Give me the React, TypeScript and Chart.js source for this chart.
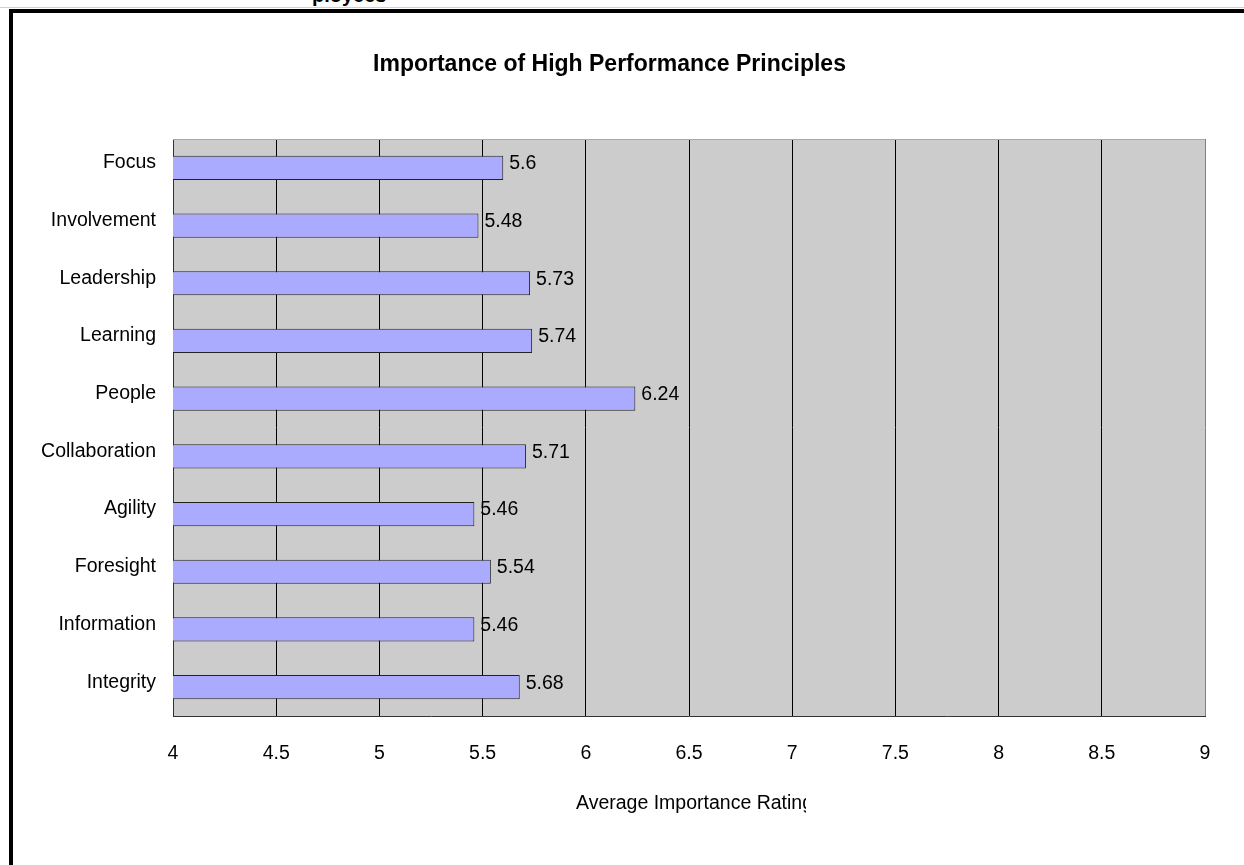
import { useEffect, useRef } from "react";
import { Chart, registerables } from "chart.js";

Chart.register(...registerables);

const categories = [
  "Focus",
  "Involvement",
  "Leadership",
  "Learning",
  "People",
  "Collaboration",
  "Agility",
  "Foresight",
  "Information",
  "Integrity",
];
const ratings = [5.6, 5.48, 5.73, 5.74, 6.24, 5.71, 5.46, 5.54, 5.46, 5.68];
const xMin = 4;
const xMax = 9;
const xStep = 0.5;
const chartTitle = "Importance of High Performance Principles";
const xAxisTitle = "Average Importance Rating";
const pageFragment = "ployees";

const FONT = "'Liberation Sans', Arial, sans-serif";
const W = 1219;
const H = 865;

export default function App() {
  const ref = useRef<HTMLCanvasElement | null>(null);

  useEffect(() => {
    if (!ref.current) return;

    const decor = {
      id: "decor",
      beforeDraw(chart: any) {
        const { ctx, chartArea: a } = chart;
        ctx.save();
        ctx.fillStyle = "#CCCCCC";
        ctx.fillRect(a.left, a.top, a.right - a.left, a.bottom - a.top);
        ctx.restore();
      },
      afterDatasetsDraw(chart: any) {
        const { ctx } = chart;
        const meta = chart.getDatasetMeta(0);
        ctx.save();
        ctx.font = `19.5px ${FONT}`;
        ctx.fillStyle = "#000";
        ctx.textAlign = "left";
        ctx.textBaseline = "middle";
        meta.data.forEach((el: any, i: number) => {
          ctx.fillText(String(ratings[i]), el.x + 6, el.y - 4);
        });
        ctx.restore();
      },
      afterDraw(chart: any) {
        const { ctx, chartArea: a } = chart;
        ctx.save();
        ctx.strokeStyle = "#A8A8A8";
        ctx.lineWidth = 1;
        ctx.beginPath();
        ctx.moveTo(a.left, a.top + 0.5);
        ctx.lineTo(a.right, a.top + 0.5);
        ctx.stroke();
        // x-axis title (clipped as in the source)
        ctx.beginPath();
        ctx.rect(0, 0, 806, H);
        ctx.clip();
        ctx.font = `19.5px ${FONT}`;
        ctx.fillStyle = "#000";
        ctx.textAlign = "left";
        ctx.textBaseline = "alphabetic";
        ctx.fillText(xAxisTitle, 576, 809);
        ctx.restore();
      },
    };

    const chart = new Chart(ref.current, {
      type: "bar",
      data: {
        labels: categories,
        datasets: [
          {
            data: ratings,
            backgroundColor: "#AAAAFF",
            borderColor: "#222222",
            borderWidth: 1,
            borderSkipped: false,
            categoryPercentage: 1,
            barPercentage: 0.42,
          },
        ],
      },
      options: {
        indexAxis: "y",
        responsive: false,
        animation: false,
        devicePixelRatio: 1,
        layout: { padding: { left: 14, right: 14, top: 0, bottom: 0 } },
        plugins: {
          legend: { display: false },
          tooltip: { enabled: false },
          title: {
            display: true,
            text: chartTitle,
            color: "#000",
            font: { family: FONT, size: 23, weight: "bold", lineHeight: 1.2 },
            padding: { top: 51, bottom: 60.4 },
          },
        },
        scales: {
          x: {
            type: "linear",
            min: xMin,
            max: xMax,
            afterFit(scale: any) {
              scale.height = 149;
            },
            ticks: {
              stepSize: xStep,
              color: "#000",
              padding: 0,
              font: { family: FONT, size: 19.5 },
              callback: (v: any) => String(v),
            },
            grid: {
              drawTicks: true,
              tickLength: 26,
              tickColor: "rgba(0,0,0,0)",
              lineWidth: 1,
              color: (c: any) =>
                c.tick && c.tick.value === xMax ? "#808080" : "#000000",
            },
            border: { display: true, color: "#333333", width: 1 },
          },
          y: {
            type: "category",
            afterFit(scale: any) {
              scale.width = 159;
            },
            ticks: {
              color: "#000",
              padding: 17,
              labelOffset: -5,
              font: { family: FONT, size: 19.5 },
            },
            grid: { display: false, drawTicks: false },
            border: { display: true, color: "#333333", width: 1 },
          },
        },
      },
      plugins: [decor],
    } as any);

    return () => chart.destroy();
  }, []);

  return (
    <div
      style={{
        position: "fixed",
        left: 0,
        top: 0,
        width: 1244,
        height: 865,
        overflow: "hidden",
        background: "#fff",
      }}
    >
      <div
        style={{
          position: "absolute",
          left: 312,
          top: -17,
          fontFamily: FONT,
          fontWeight: "bold",
          fontSize: 20,
          lineHeight: "24px",
          color: "#000",
          whiteSpace: "nowrap",
        }}
      >
        {pageFragment}
      </div>
      <div
        style={{
          position: "absolute",
          left: 0,
          top: 7,
          width: 1244,
          height: 1,
          background: "#D0D0D0",
        }}
      />
      <div
        style={{
          position: "absolute",
          left: 9,
          top: 9,
          width: 1400,
          height: 1000,
          borderLeft: "4px solid #000",
          borderTop: "4px solid #000",
        }}
      />
      <canvas
        ref={ref}
        width={W}
        height={H}
        style={{ position: "absolute", left: 0, top: 0, width: W, height: H }}
      />
    </div>
  );
}
